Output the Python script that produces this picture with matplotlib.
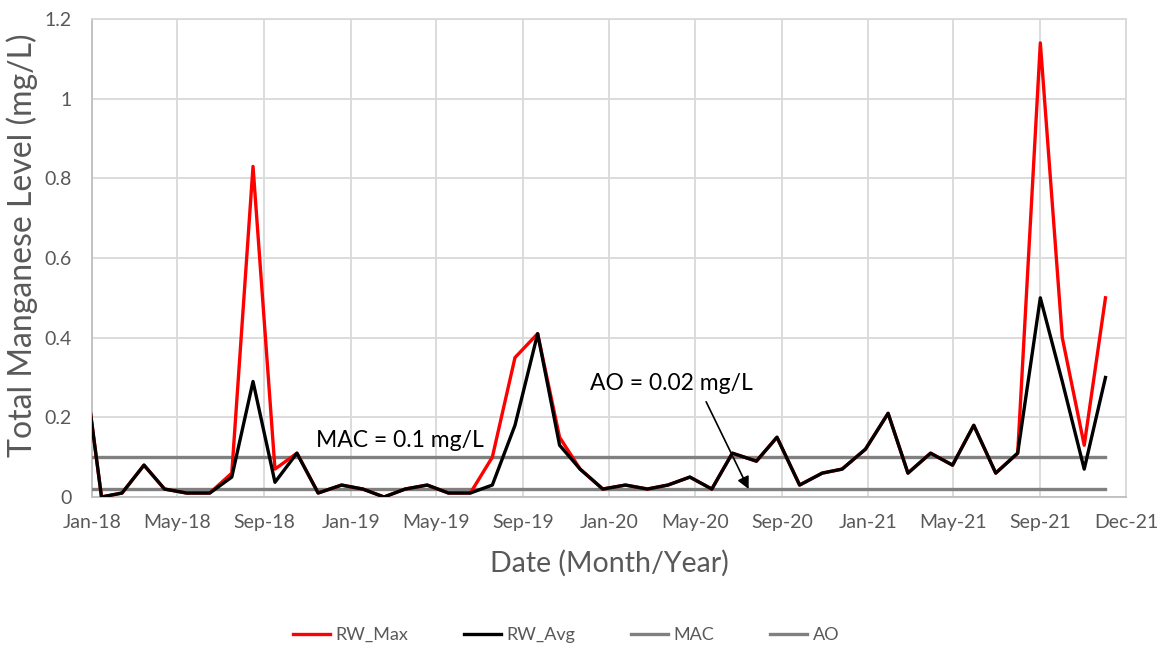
import matplotlib
matplotlib.use("Agg")
import matplotlib.pyplot as plt
import pandas as pd

# ---- data ----
sample_dates = [
    "2017-12-14", "2018-01-14", "2018-02-12", "2018-03-15", "2018-04-13", "2018-05-14",
    "2018-06-16", "2018-07-17", "2018-08-16", "2018-09-16", "2018-10-17", "2018-11-16",
    "2018-12-19", "2019-01-18", "2019-02-17", "2019-03-19", "2019-04-19", "2019-05-19",
    "2019-06-19", "2019-07-20", "2019-08-21", "2019-09-22", "2019-10-23", "2019-11-21",
    "2019-12-23", "2020-01-24", "2020-02-24", "2020-03-24", "2020-04-24", "2020-05-25",
    "2020-06-23", "2020-07-27", "2020-08-25", "2020-09-26", "2020-10-28", "2020-11-25",
    "2020-12-28", "2021-01-29", "2021-02-26", "2021-03-30", "2021-04-30", "2021-05-30",
    "2021-06-30", "2021-07-31", "2021-09-01", "2021-10-02", "2021-11-02", "2021-12-02",
]
rw_max = [
    0.42, 0.00, 0.01, 0.08, 0.02, 0.01,
    0.01, 0.06, 0.83, 0.07, 0.11, 0.01,
    0.03, 0.02, 0.00, 0.02, 0.03, 0.01,
    0.01, 0.10, 0.35, 0.41, 0.15, 0.07,
    0.02, 0.03, 0.02, 0.03, 0.05, 0.02,
    0.11, 0.09, 0.15, 0.03, 0.06, 0.07,
    0.12, 0.21, 0.06, 0.11, 0.08, 0.18,
    0.06, 0.11, 1.14, 0.40, 0.13, 0.50,
]
rw_avg = [
    0.42, 0.00, 0.01, 0.08, 0.02, 0.01,
    0.01, 0.05, 0.29, 0.037, 0.11, 0.01,
    0.03, 0.02, 0.00, 0.02, 0.03, 0.01,
    0.01, 0.03, 0.18, 0.41, 0.13, 0.07,
    0.02, 0.03, 0.02, 0.03, 0.05, 0.02,
    0.11, 0.09, 0.15, 0.03, 0.06, 0.07,
    0.12, 0.21, 0.06, 0.11, 0.08, 0.18,
    0.06, 0.11, 0.50, 0.29, 0.07, 0.30,
]
mac_value = 0.1
ao_value = 0.02
x_min, x_max = "2018-01-01", "2021-12-31"
tick_dates = ["2018-01-01", "2018-05-01", "2018-09-01", "2019-01-01", "2019-05-01",
              "2019-09-01", "2020-01-01", "2020-05-01", "2020-09-01", "2021-01-01",
              "2021-05-01", "2021-09-01", "2021-12-31"]
tick_labels = ["Jan-18", "May-18", "Sep-18", "Jan-19", "May-19", "Sep-19", "Jan-20",
               "May-20", "Sep-20", "Jan-21", "May-21", "Sep-21", "Dec-21"]
y_ticks = [0, 0.2, 0.4, 0.6, 0.8, 1.0, 1.2]
y_tick_labels = ["0", "0.2", "0.4", "0.6", "0.8", "1", "1.2"]

# ---- style ----
plt.rcParams["font.family"] = ["Lato", "DejaVu Sans"]
text_gray = "#595959"
grid_gray = "#d9d9d9"
ref_gray = "#808080"

dates = pd.to_datetime(sample_dates)
mac = [mac_value] * len(dates)
ao = [ao_value] * len(dates)

fig = plt.figure(figsize=(11.62, 6.51), dpi=100)
ax = fig.add_axes([92.3 / 1162, 1 - 497 / 651, (1126 - 92.3) / 1162, (497 - 19) / 651])

ax.plot(dates, rw_max, color="#ff0000", lw=2.4, label="RW_Max", zorder=4)
ax.plot(dates, rw_avg, color="#000000", lw=2.4, label="RW_Avg", zorder=5)
ax.plot(dates, mac, color=ref_gray, lw=2.4, label="MAC", zorder=3)
ax.plot(dates, ao, color=ref_gray, lw=2.4, label="AO", zorder=3)

ax.set_xlim(pd.Timestamp(x_min), pd.Timestamp(x_max))
ax.set_ylim(0, 1.2)
ax.set_xticks(pd.to_datetime(tick_dates))
ax.set_xticklabels(tick_labels)
ax.set_yticks(y_ticks)
ax.set_yticklabels(y_tick_labels)
ax.tick_params(axis="both", length=0, labelsize=14, colors=text_gray)
ax.tick_params(axis="x", pad=12)
ax.tick_params(axis="y", pad=15)

ax.grid(True, color=grid_gray, lw=1.3, zorder=0)
ax.set_axisbelow(True)
for side in ["top", "right"]:
    ax.spines[side].set_color(grid_gray)
    ax.spines[side].set_linewidth(1.3)
for side in ["left", "bottom"]:
    ax.spines[side].set_color("#bfbfbf")
    ax.spines[side].set_linewidth(1.3)

ax.set_xlabel("Date (Month/Year)", fontsize=20.5, color=text_gray, labelpad=14)
ax.set_ylabel("Total Manganese Level (mg/L)", fontsize=23, color=text_gray)
ax.yaxis.set_label_coords(-0.053, 0.527)

ax.text(pd.Timestamp("2018-11-13"), 0.143, "MAC = 0.1 mg/L", fontsize=16.5,
        color="black", ha="left", va="center")
ax.text(pd.Timestamp("2019-12-05"), 0.284, "AO = 0.02 mg/L", fontsize=16.5,
        color="black", ha="left", va="center")
ax.annotate("", xy=(pd.Timestamp("2020-07-16"), ao_value),
            xytext=(pd.Timestamp("2020-05-17"), 0.239),
            arrowprops=dict(arrowstyle="-|>", color="black", lw=1.2,
                            mutation_scale=18, shrinkA=0, shrinkB=0))

fig.legend(loc="center", bbox_to_anchor=(566 / 1162, 1 - 635 / 651), ncol=4, frameon=False,
           fontsize=13, labelcolor=text_gray, handlelength=2.05, handletextpad=0.3,
           columnspacing=3.1)

fig.savefig("out.png", dpi=100)
